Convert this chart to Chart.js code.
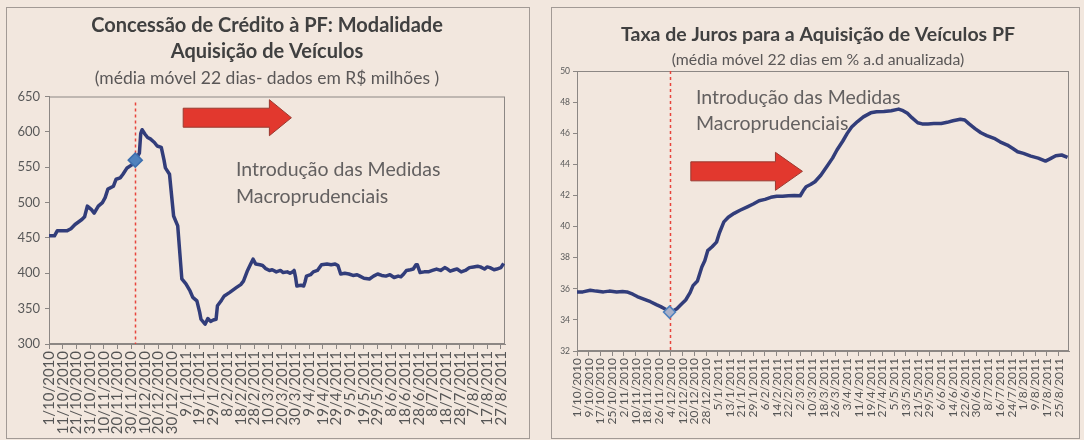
<!DOCTYPE html>
<html>
<head>
<meta charset="utf-8">
<script src="https://cdn.jsdelivr.net/npm/chart.js@4.4.1/dist/chart.umd.min.js"></script>
<style>
  html, body { margin: 0; padding: 0; background: #f2e7de; }
  body { width: 1084px; height: 440px; position: relative; overflow: hidden; }
  canvas { position: absolute; top: 0; }
  #left { left: 0; }
  #right { left: 552px; }
  .frame { position: absolute; border: 1px solid #a29a95; pointer-events: none; }
</style>
</head>
<body>
<div class="frame" style="left:6px;top:7px;width:522px;height:430px"></div>
<div class="frame" style="left:551px;top:7px;width:527px;height:430px"></div>
<canvas id="left" width="534" height="440"></canvas>
<canvas id="right" width="532" height="440"></canvas>
<script>
  // ── Data ────────────────────────────────────────────────────────────────
  // x = days since 1/10/2010 (daily moving average series)
  const measureDay = 63   // 3/12/2010 – macroprudential measures

  const leftTickLabels = ['1/10/2010', '11/10/2010', '21/10/2010', '31/10/2010', '10/11/2010', '20/11/2010',
    '30/11/2010', '10/12/2010', '20/12/2010', '30/12/2010', '9/1/2011', '19/1/2011', '29/1/2011', '8/2/2011',
    '18/2/2011', '28/2/2011', '10/3/2011', '20/3/2011', '30/3/2011', '9/4/2011', '19/4/2011', '29/4/2011',
    '9/5/2011', '19/5/2011', '29/5/2011', '8/6/2011', '18/6/2011', '28/6/2011', '8/7/2011', '18/7/2011',
    '28/7/2011', '7/8/2011', '17/8/2011', '27/8/2011']
  const leftDays = [0, 4, 6, 13, 16, 19, 24, 26, 28, 31, 33, 36, 39, 41, 43, 47, 49, 52, 54, 57, 61, 63, 66, 67, 68,
    70, 72, 74, 77, 79, 82, 84, 85, 88, 91, 94, 97, 100, 103, 105, 108, 110, 111, 114, 116, 118, 120, 122, 123,
    126, 128, 132, 137, 140, 142, 145, 147, 149, 151, 154, 156, 158, 161, 163, 166, 169, 171, 174, 176, 178, 179,
    180, 181, 184, 186, 187, 188, 191, 193, 196, 199, 203, 206, 209, 211, 213, 216, 219, 222, 225, 227, 230, 234,
    237, 240, 243, 246, 249, 252, 255, 257, 259, 261, 264, 266, 268, 269, 271, 274, 277, 280, 283, 286, 289, 291,
    293, 296, 298, 301, 304, 307, 310, 313, 315, 318, 320, 322, 325, 327, 330, 332]
  const leftValues = [453, 453, 460, 460, 463, 469, 476, 480, 495, 490, 485, 495, 500, 507, 519, 523, 533, 535, 540,
    549, 554, 560, 570, 598, 603, 597, 592, 590, 585, 580, 578, 560, 549, 540, 481, 467, 392, 385, 375, 366, 361,
    345, 335, 328, 336, 332, 334, 335, 354, 362, 368, 373, 380, 384, 389, 404, 412, 420, 413, 412, 411, 407, 404,
    405, 402, 404, 401, 402, 400, 402, 404, 395, 382, 383, 382, 388, 396, 398, 402, 404, 412, 413, 412, 413, 411,
    399, 400, 399, 397, 398, 396, 393, 392, 396, 399, 397, 396, 398, 394, 396, 395, 399, 404, 405, 406, 412, 412,
    401, 402, 402, 404, 406, 404, 408, 406, 403, 405, 406, 402, 404, 408, 409, 410, 409, 406, 409, 408, 405, 406,
    408, 414]
  const leftMarkerValue = 560

  const rightTickLabels = ['1/10/2010', '9/10/2010', '17/10/2010', '25/10/2010', '2/11/2010', '10/11/2010',
    '18/11/2010', '26/11/2010', '4/12/2010', '12/12/2010', '20/12/2010', '28/12/2010', '5/1/2011', '13/1/2011',
    '21/1/2011', '29/1/2011', '6/2/2011', '14/2/2011', '22/2/2011', '2/3/2011', '10/3/2011', '18/3/2011',
    '26/3/2011', '3/4/2011', '11/4/2011', '19/4/2011', '27/4/2011', '5/5/2011', '13/5/2011', '21/5/2011',
    '29/5/2011', '6/6/2011', '14/6/2011', '22/6/2011', '30/6/2011', '8/7/2011', '16/7/2011', '24/7/2011',
    '1/8/2011', '9/8/2011', '17/8/2011', '25/8/2011']
  const rightDays = [0, 4, 9, 13, 18, 22, 27, 31, 34, 38, 41, 45, 50, 54, 57, 60, 63, 65, 68, 71, 74, 77, 79, 82,
    85, 87, 89, 92, 95, 97, 100, 103, 107, 111, 116, 120, 124, 128, 132, 136, 140, 144, 148, 152, 154, 156, 159,
    162, 166, 170, 174, 177, 181, 184, 187, 191, 195, 200, 204, 209, 214, 219, 222, 225, 228, 232, 235, 239, 243,
    248, 252, 256, 261, 264, 267, 271, 275, 279, 284, 288, 293, 297, 300, 304, 309, 314, 319, 322, 326, 330, 334]
  const rightValues = [35.8, 35.8, 35.9, 35.85, 35.8, 35.85, 35.8, 35.82, 35.8, 35.65, 35.5, 35.35, 35.17, 34.98,
    34.85, 34.7, 34.53, 34.55, 34.72, 35.0, 35.28, 35.75, 36.2, 36.5, 37.4, 37.8, 38.45, 38.7, 39.0, 39.6, 40.3,
    40.6, 40.85, 41.05, 41.27, 41.45, 41.66, 41.75, 41.88, 41.95, 41.95, 41.98, 42.0, 41.98, 42.3, 42.56, 42.7,
    42.88, 43.3, 43.84, 44.4, 44.92, 45.5, 45.99, 46.4, 46.75, 47.05, 47.31, 47.38, 47.4, 47.45, 47.55, 47.45,
    47.28, 47.0, 46.67, 46.6, 46.6, 46.62, 46.63, 46.7, 46.8, 46.9, 46.85, 46.6, 46.3, 46.03, 45.85, 45.67, 45.45,
    45.24, 45.0, 44.81, 44.7, 44.53, 44.4, 44.21, 44.35, 44.55, 44.6, 44.45]
  const rightMarkerValue = 34.5

  const noteLines = ['Introdução das Medidas', 'Macroprudenciais']

  // ── Styles ──────────────────────────────────────────────────────────────
  const FONT = 'Lato, "Open Sans", sans-serif'
  const AXIS = '#8c8784'
  const LINE = '#323d7a'
  Chart.defaults.font.family = FONT

  // ── Annotation plugin: plot box, measure line, arrow, note ─────────────
  const decor = {
    id: 'decor',
    beforeDatasetsDraw(chart, args, o) {
      const { ctx, chartArea: a, scales } = chart
      ctx.save()
      ctx.strokeStyle = AXIS
      ctx.lineWidth = 1
      ctx.strokeRect(a.left + 0.5, a.top + 0.5, a.width - 1, a.height - 1)
      const x = Math.round(scales.x.getPixelForValue(measureDay)) + 0.5
      ctx.strokeStyle = '#e8453c'
      ctx.lineWidth = 1.5
      ctx.setLineDash([3, 3])
      ctx.beginPath()
      ctx.moveTo(x, a.top + o.dashGap)
      ctx.lineTo(x, a.bottom)
      ctx.stroke()
      ctx.restore()
    },
    afterDatasetsDraw(chart, args, o) {
      const { ctx, scales } = chart
      const ar = o.arrow
      const x0 = scales.x.getPixelForValue(ar.from)
      const x1 = scales.x.getPixelForValue(ar.to)
      const y = scales.y.getPixelForValue(ar.at)
      ctx.save()
      ctx.beginPath()
      ctx.moveTo(x0, y - ar.body)
      ctx.lineTo(x1 - ar.headLen, y - ar.body)
      ctx.lineTo(x1 - ar.headLen, y - ar.head)
      ctx.lineTo(x1, y)
      ctx.lineTo(x1 - ar.headLen, y + ar.head)
      ctx.lineTo(x1 - ar.headLen, y + ar.body)
      ctx.lineTo(x0, y + ar.body)
      ctx.closePath()
      ctx.fillStyle = '#e2382e'
      ctx.fill()
      ctx.strokeStyle = '#9a3a30'
      ctx.lineWidth = 1
      ctx.stroke()

      const n = o.note
      ctx.fillStyle = '#636060'
      ctx.font = `${n.size}px ${FONT}`
      ctx.textBaseline = 'middle'
      ctx.textAlign = 'left'
      const nx = scales.x.getPixelForValue(n.day)
      noteLines.forEach((t, i) => ctx.fillText(t, nx, scales.y.getPixelForValue(n.at[i])))
      ctx.restore()
    }
  }

  // ── Chart factory ──────────────────────────────────────────────────────
  function makeChart(id, c) {
    const series = c.days.map((d, i) => ({ x: d, y: c.values[i] }))
    return new Chart(document.getElementById(id), {
      type: 'line',
      data: {
        datasets: [{
          data: [{ x: measureDay, y: c.markerValue }],
          showLine: false,
          pointStyle: 'rectRot',
          pointRadius: c.marker.radius,
          pointBackgroundColor: c.marker.fill,
          pointBorderColor: c.marker.border,
          pointBorderWidth: 1.5
        }, {
          data: series,
          borderColor: LINE,
          borderWidth: 3.5,
          borderJoinStyle: 'round',
          pointRadius: 0,
          tension: 0
        }]
      },
      options: {
        responsive: false,
        animation: false,
        devicePixelRatio: 1,
        layout: { padding: 0 },
        plugins: {
          legend: { display: false },
          tooltip: { enabled: false },
          title: {
            display: true,
            text: c.title,
            color: '#404040',
            padding: c.titlePad,
            font: { size: c.titleSize, weight: 'bold', lineHeight: c.titleLh }
          },
          subtitle: {
            display: true,
            text: c.subtitle,
            color: '#5a5757',
            padding: c.subPad,
            font: { size: c.subSize, lineHeight: c.subLh }
          },
          decor: c.decor
        },
        scales: {
          x: {
            type: 'linear',
            min: 0,
            max: c.maxDay,
            afterBuildTicks: s => { s.ticks = c.tickLabels.map((_, i) => ({ value: i * c.step })) },
            afterFit: s => { s.height = c.xHeight },
            ticks: {
              autoSkip: false,
              minRotation: 90,
              maxRotation: 90,
              padding: 2,
              color: '#555',
              font: { size: c.xFont },
              callback: (v, i) => c.tickLabels[i]
            },
            grid: { drawOnChartArea: false, tickLength: 5, color: AXIS },
            border: { color: AXIS }
          },
          y: {
            min: c.yMin,
            max: c.yMax,
            afterFit: s => { s.width = c.yWidth },
            ticks: { stepSize: c.yStep, color: '#595959', padding: c.yPad, font: { size: c.yFont } },
            grid: { drawOnChartArea: false, tickLength: 4, color: AXIS },
            border: { color: AXIS }
          },
          // empty right-hand gutter so the titles stay centred on the panel
          gutter: {
            type: 'linear',
            position: 'right',
            afterFit: s => { s.width = c.gutter },
            ticks: { display: false },
            grid: { display: false },
            border: { display: false }
          }
        }
      },
      plugins: [decor]
    })
  }

  makeChart('left', {
    days: leftDays, values: leftValues, markerValue: leftMarkerValue,
    marker: { radius: 7, fill: '#4f81bd', border: '#3d6fae' },
    tickLabels: leftTickLabels, step: 10, maxDay: 333,
    yMin: 300, yMax: 650, yStep: 50, yFont: 13, yPad: 5, yWidth: 49, gutter: 29,
    xFont: 15, xHeight: 96,
    title: ['Concessão de Crédito à PF: Modalidade', 'Aquisição de Veículos'],
    titleSize: 20, titleLh: 26 / 20, titlePad: { top: 13, bottom: 0 },
    subtitle: '(média móvel 22 dias- dados em R$ milhões )',
    subSize: 17.5, subLh: 20 / 17.5, subPad: { top: 3, bottom: 8.5 },
    decor: {
      dashGap: 6,
      arrow: { from: 98, to: 177, at: 620, body: 9.5, head: 18, headLen: 22 },
      note: { day: 136.5, at: [546, 508], size: 19.5 }
    }
  })

  makeChart('right', {
    days: rightDays, values: rightValues, markerValue: rightMarkerValue,
    marker: { radius: 6, fill: '#a9b0c8', border: '#4f81bd' },
    tickLabels: rightTickLabels, step: 8, maxDay: 335,
    yMin: 32, yMax: 50, yStep: 2, yFont: 8.5, yPad: 3, yWidth: 25, gutter: 15,
    xFont: 12, xHeight: 89,
    title: 'Taxa de Juros para a Aquisição de Veículos PF',
    titleSize: 19.5, titleLh: 22 / 19.5, titlePad: { top: 24, bottom: 0 },
    subtitle: '(média móvel 22 dias em % a.d anualizada)',
    subSize: 15.8, subLh: 18 / 15.8, subPad: { top: 5, bottom: 2 },
    decor: {
      dashGap: 0,
      arrow: { from: 77.5, to: 153.5, at: 43.55, body: 9.5, head: 19, headLen: 27 },
      note: { day: 81, at: [48.3, 46.6], size: 19.5 }
    }
  })
</script>
</body>
</html>
